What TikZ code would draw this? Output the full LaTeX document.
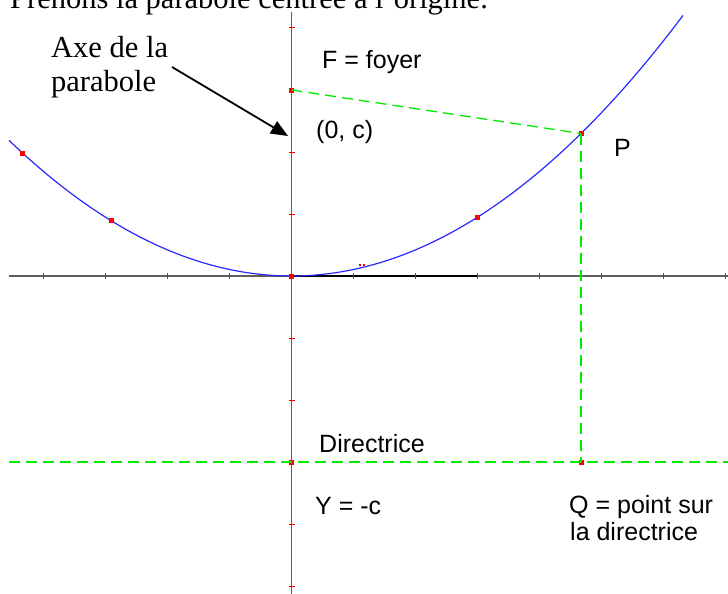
\documentclass[tikz,border=0pt]{standalone}
\usepackage{fontspec}
\setmainfont{Liberation Serif}
\newfontfamily\arialf{Liberation Sans}
\usetikzlibrary{arrows.meta}
\definecolor{axgray}{RGB}{95,95,95}
\definecolor{pgreen}{RGB}{0,235,0}
\definecolor{pblue}{RGB}{40,40,255}
\definecolor{pred}{RGB}{255,0,0}
\begin{document}
\begin{tikzpicture}[x=1pt,y=-1pt,
  lbl/.style={font=\arialf\fontsize{25}{30}\selectfont, anchor=base west, inner sep=0pt},
  serif/.style={font=\fontsize{30.5}{34}\selectfont, anchor=base west, inner sep=0pt, align=left},
  axis/.style={draw=axgray, line width=1.6pt},
  tickm/.style={draw=pred, line width=1pt},
  dot/.style={fill=pred, rectangle, minimum size=5pt, inner sep=0pt},
  dashg/.style={draw=pgreen, line width=1.3pt, dash pattern=on 11pt off 6pt},
  curve/.style={draw=pblue, line width=1.2pt}]
\useasboundingbox (0,0) rectangle (728,594);
\clip (0,0) rectangle (728,594);
% axes
\coordinate (xl) at (9,276);
\coordinate (xr) at (728,276);
\coordinate (yt) at (291.5,12);
\coordinate (yb) at (291.5,594);
\coordinate (dl) at (9,462);
\coordinate (dr) at (728,462);
\draw[axis] (xl) -- (xr);
\draw[axis] (yt) -- (yb);
\coordinate (xm) at (477.5,276);
\draw[line width=1.6pt, black] (291.5,276) -- (xm);
% ticks
\foreach \t in {43.5,105.5,167.5,229.5,353.5,415.5,477.5,539.5,601.5,663.5,725.5}
  \draw[tickm] (\t,273) -- (\t,279);
\foreach \t in {28,90,152,214,338,400,524,586}
  \draw[tickm] (288.5,\t) -- (294.5,\t);
% parabola
\draw[curve] plot[domain=9:683, samples=120, smooth] (\x, {276-17*((\x-291.5)/100)^2});
% dots
\node[dot] (O) at (291.5,276) {};
\node[dot] (F) at (291.5,90) {};
\node[dot] (D) at (291.5,462) {};
\node[dot] (P) at (581,133.5) {};
\node[dot] (Q) at (581,462) {};
\node[dot] (A1) at (22.7,153.2) {};
\node[dot] (A2) at (111,220.6) {};
\node[dot] (A3) at (477,217.5) {};
\fill[pred] (359,264) rectangle (361,266);
\fill[pred] (363,264) rectangle (365,266);
% green dashed
\draw[dashg] (F.center) -- (P.center);
\draw[dashg] (P.center) -- (Q.center);
\draw[dashg] (dl) -- (dr);
% labels
\node[lbl] (lf) at (322,69) {F = foyer};
\node[lbl] (lc) at (316,138) {(0, c)};
\node[lbl] (lp) at (614,156) {P};
\node[lbl] (ld) at (319,452) {Directrice};
\node[lbl] (ly) at (315,514) {Y = -c};
\node[lbl] (lq1) at (569,513) {Q = point sur};
\node[lbl] (lq2) at (570,540) {la directrice};
% serif texts
\node[serif] (top) at (10,9) {Prenons la parabole centrée à l'origine.};
\node[serif] (axe1) at (51,58) {Axe de la};
\node[serif] (axe2) at (51,92) {parabole};
\coordinate (as) at (172,67);
\coordinate (ae) at (288,136);
\draw[line width=1.8pt, -{Triangle[length=17pt,width=14pt]}] (as) -- (ae);
\end{tikzpicture}
\end{document}
